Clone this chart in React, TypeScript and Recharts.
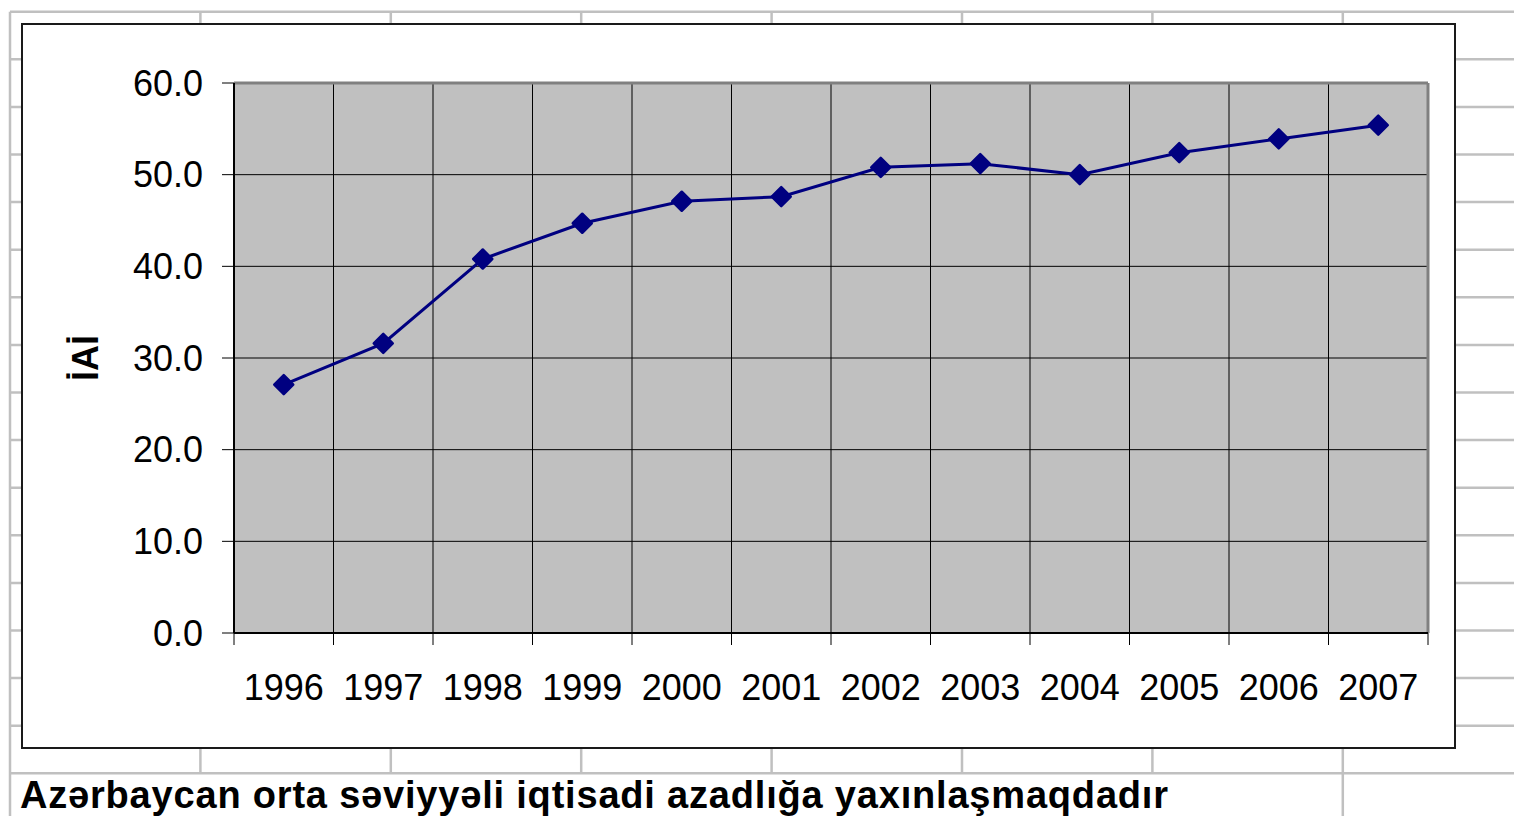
import React from 'react';
import { ComposedChart, Line, XAxis, YAxis, CartesianGrid, ReferenceLine } from 'recharts';

const YEARS = ['1996', '1997', '1998', '1999', '2000', '2001', '2002', '2003', '2004', '2005', '2006', '2007'];
const IAI = [27.1, 31.6, 40.8, 44.7, 47.1, 47.6, 50.8, 51.2, 50.0, 52.4, 53.9, 55.4];
const Y_TICKS = [0, 10, 20, 30, 40, 50, 60];
const X_BOUNDS = YEARS.map((_, i) => i).concat(YEARS.length);

const CAPTION = 'Azərbaycan orta səviyyəli iqtisadi azadlığa yaxınlaşmaqdadır';

// spreadsheet background lines
const SHEET_ROWS = Array.from({ length: 17 }, (_, k) => 11.7 + 47.6 * k);
const SHEET_COLS = Array.from({ length: 8 }, (_, k) => 10 + 190.4 * k);

const FONT = '"Liberation Sans", Arial, sans-serif';

const CHART_W = 1433;
const CHART_H = 724;
const MARGIN = { top: 59, right: 27, left: 0, bottom: 0 };
const Y_AXIS_W = 212;
const X_AXIS_H = 115;
const BAND = (CHART_W - MARGIN.right - Y_AXIS_W) / YEARS.length;

const rows = YEARS.map((year, i) => ({ x: i + 0.5, year, v: IAI[i] }));

function Diamond(props: any) {
  const { cx, cy } = props;
  if (cx == null || cy == null) return null;
  const r = 9.5;
  return (
    <polygon
      points={`${cx},${cy - r} ${cx + r},${cy} ${cx},${cy + r} ${cx - r},${cy}`}
      fill="#000080"
      stroke="#000080"
      strokeWidth={2.5}
      strokeLinejoin="round"
    />
  );
}

function Sheet() {
  const last = SHEET_ROWS[SHEET_ROWS.length - 1];
  return (
    <svg width={1514} height={816} style={{ position: 'absolute', left: 0, top: 0 }}>
      {SHEET_ROWS.map((y) => (
        <line key={'r' + y} x1={10} x2={1514} y1={y} y2={y} stroke="#C0C0C0" strokeWidth={2.5} />
      ))}
      {SHEET_COLS.map((x, k) => (
        <line
          key={'c' + k}
          x1={x}
          x2={x}
          y1={11.7}
          y2={k === 0 || k === SHEET_COLS.length - 1 ? 816 : last}
          stroke="#C0C0C0"
          strokeWidth={2.5}
        />
      ))}
      <text
        x={20}
        y={808}
        fontFamily={FONT}
        fontWeight="bold"
        fontSize={38}
        fill="#000"
        textLength={1148}
        lengthAdjust="spacing"
      >
        {CAPTION}
      </text>
    </svg>
  );
}

export default function App() {
  return (
    <div style={{ position: 'absolute', left: 0, top: 0, width: 1514, height: 816, background: '#fff', overflow: 'hidden' }}>
      <Sheet />
      <div
        style={{
          position: 'absolute',
          left: 21,
          top: 23,
          width: CHART_W + 2,
          height: CHART_H + 2,
          boxSizing: 'border-box',
          border: '2px solid #1a1a1a',
          background: '#fff',
        }}
      />
      <div style={{ position: 'absolute', left: 22, top: 24 }}>
        <ComposedChart width={CHART_W} height={CHART_H} data={rows} margin={MARGIN} style={{ fontFamily: FONT }}>
          <CartesianGrid
            fill="#C0C0C0"
            fillOpacity={1}
            stroke="#000"
            strokeWidth={1}
          />
          <XAxis
            type="number"
            dataKey="x"
            domain={[0, YEARS.length]}
            ticks={X_BOUNDS}
            interval={0}
            height={X_AXIS_H}
            tickSize={12}
            tickMargin={29}
            tickLine={{ stroke: '#000' }}
            axisLine={{ stroke: '#000', strokeWidth: 2 }}
            tick={{ fill: '#000', fontSize: 36, dx: BAND / 2 }}
            tickFormatter={(v: number) => YEARS[v] ?? ''}
          />
          <YAxis
            domain={[0, 60]}
            ticks={Y_TICKS}
            interval={0}
            width={Y_AXIS_W}
            tickSize={12}
            tickMargin={19}
            tickLine={{ stroke: '#000' }}
            axisLine={{ stroke: '#000', strokeWidth: 2 }}
            tick={{ fill: '#000', fontSize: 36 }}
            tickFormatter={(v: number) => v.toFixed(1)}
            label={{
              content: ({ viewBox }: any) => {
                const x = (viewBox?.x ?? 0) + 76;
                const y = (viewBox?.y ?? 0) + (viewBox?.height ?? 0) / 2;
                return (
                  <text
                    x={x}
                    y={y}
                    transform={`rotate(-90, ${x}, ${y})`}
                    textAnchor="middle"
                    fontFamily={FONT}
                    fontWeight="bold"
                    fontSize={36}
                    fill="#000"
                  >
                    İAİ
                  </text>
                );
              },
            }}
          />
          <ReferenceLine y={60} stroke="#808080" strokeWidth={3} />
          <ReferenceLine x={YEARS.length} stroke="#808080" strokeWidth={3} />
          <Line
            dataKey="v"
            stroke="#000080"
            strokeWidth={3}
            dot={<Diamond />}
            activeDot={false}
            isAnimationActive={false}
          />
        </ComposedChart>
      </div>
    </div>
  );
}
